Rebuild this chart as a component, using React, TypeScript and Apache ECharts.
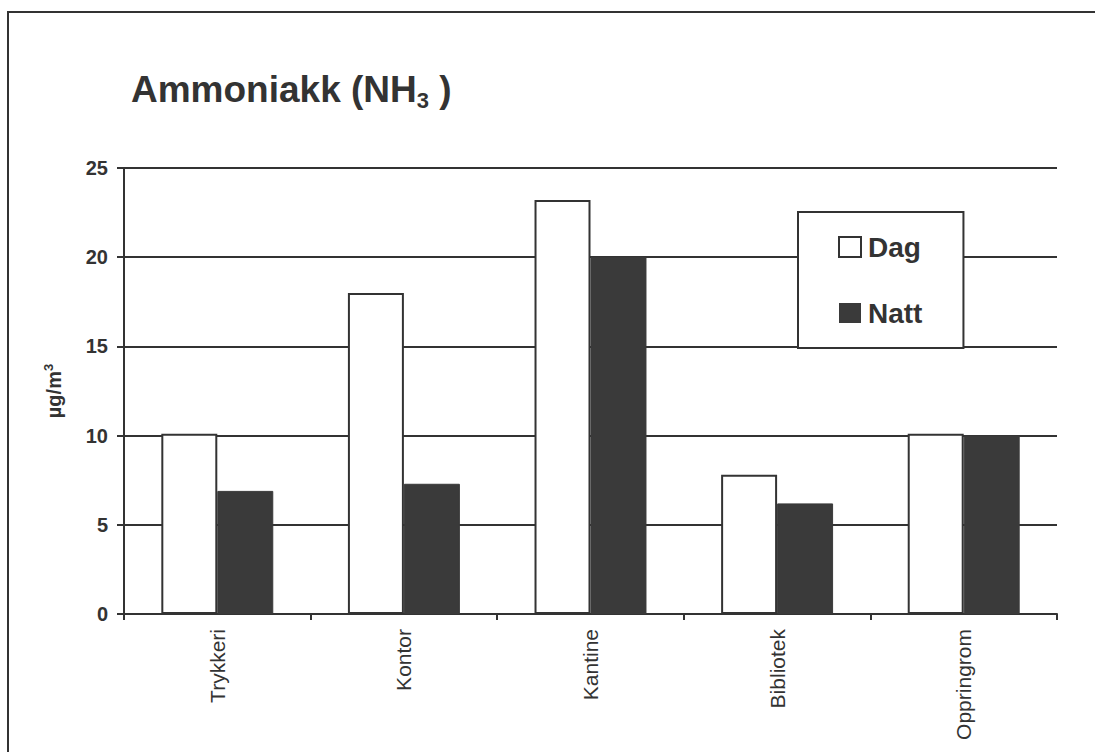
import React, { useEffect, useRef } from "react";
import * as echarts from "echarts";

const categories = ["Trykkeri", "Kontor", "Kantine", "Bibliotek", "Oppringrom"];
const dagValues = [10.1, 18.0, 23.2, 7.8, 10.1];
const nattValues = [6.9, 7.3, 20.0, 6.2, 10.0];
const seriesNames = ["Dag", "Natt"];
const yMin = 0;
const yMax = 25;
const yInterval = 5;

const INK = "#333333";
const DARK = "#3a3a3a";

export default function App() {
  const ref = useRef<HTMLDivElement>(null);

  useEffect(() => {
    if (!ref.current) return;
    const chart = echarts.init(ref.current, undefined, { renderer: "svg" });
    const font = "'Liberation Sans', Arial, Helvetica, sans-serif";
    chart.setOption({
      animation: false,
      backgroundColor: "#ffffff",
      textStyle: { fontFamily: font },
      title: {
        text: "{a|Ammoniakk (NH}{b|3}{a| )}",
        left: 131,
        top: 67,
        padding: 0,
        textStyle: {
          rich: {
            a: { fontSize: 37, fontWeight: "bold", color: INK, lineHeight: 44, fontFamily: font },
            b: { fontSize: 22, fontWeight: "bold", color: INK, lineHeight: 25, verticalAlign: "bottom", fontFamily: font },
          },
        },
      },
      graphic: [
        {
          type: "rect",
          shape: { x: 8, y: 12, width: 1200, height: 800 },
          style: { fill: "none", stroke: INK, lineWidth: 2 },
          silent: true,
          z: -1,
        },
      ],
      legend: {
        orient: "vertical",
        left: 798,
        top: 212,
        padding: [21, 41, 21, 40],
        itemGap: 38,
        itemWidth: 22,
        itemHeight: 20,
        backgroundColor: "#ffffff",
        borderColor: INK,
        borderWidth: 2,
        borderRadius: 0,
        textStyle: { fontSize: 28, fontWeight: "bold", color: INK, fontFamily: font, padding: [0, 0, 0, 2] },
        data: [
          { name: seriesNames[0], icon: "rect", itemStyle: { color: "#ffffff", borderColor: INK, borderWidth: 2 } },
          { name: seriesNames[1], icon: "rect", itemStyle: { color: DARK, borderColor: DARK, borderWidth: 0 } },
        ],
      },
      grid: { left: 124, right: 38, top: 168, bottom: 138, containLabel: false },
      xAxis: {
        type: "category",
        data: categories,
        axisLine: { lineStyle: { color: INK, width: 2 } },
        axisTick: { show: true, length: 6, lineStyle: { color: INK, width: 2 } },
        axisLabel: {
          rotate: 90,
          margin: 15,
          fontSize: 21,
          color: INK,
          fontFamily: font,
        },
      },
      yAxis: {
        type: "value",
        min: yMin,
        max: yMax,
        interval: yInterval,
        name: "{a|µg/m}{s|3}",
        nameLocation: "middle",
        nameGap: 58,
        nameRotate: 90,
        nameTextStyle: {
          rich: {
            a: { fontSize: 20, fontWeight: "bold", color: INK, fontFamily: font, lineHeight: 24 },
            s: { fontSize: 13, fontWeight: "bold", color: INK, fontFamily: font, lineHeight: 14, verticalAlign: "top" },
          },
        },
        axisLine: { show: true, lineStyle: { color: INK, width: 2 } },
        axisTick: { show: true, length: 7, lineStyle: { color: INK, width: 2 } },
        axisLabel: { fontSize: 20, fontWeight: "bold", color: INK, margin: 16, fontFamily: font },
        splitLine: { show: true, lineStyle: { color: INK, width: 2 } },
      },
      series: [
        {
          name: seriesNames[0],
          type: "bar",
          data: dagValues,
          barGap: "0%",
          barCategoryGap: "40%",
          itemStyle: { color: "#ffffff", borderColor: INK, borderWidth: 2 },
        },
        {
          name: seriesNames[1],
          type: "bar",
          data: nattValues,
          barGap: "0%",
          barCategoryGap: "40%",
          itemStyle: { color: DARK, borderColor: DARK, borderWidth: 1 },
        },
      ],
    });
    return () => chart.dispose();
  }, []);

  return (
    <div
      ref={ref}
      style={{ position: "fixed", left: 0, top: 0, width: 1095, height: 752 }}
    />
  );
}
